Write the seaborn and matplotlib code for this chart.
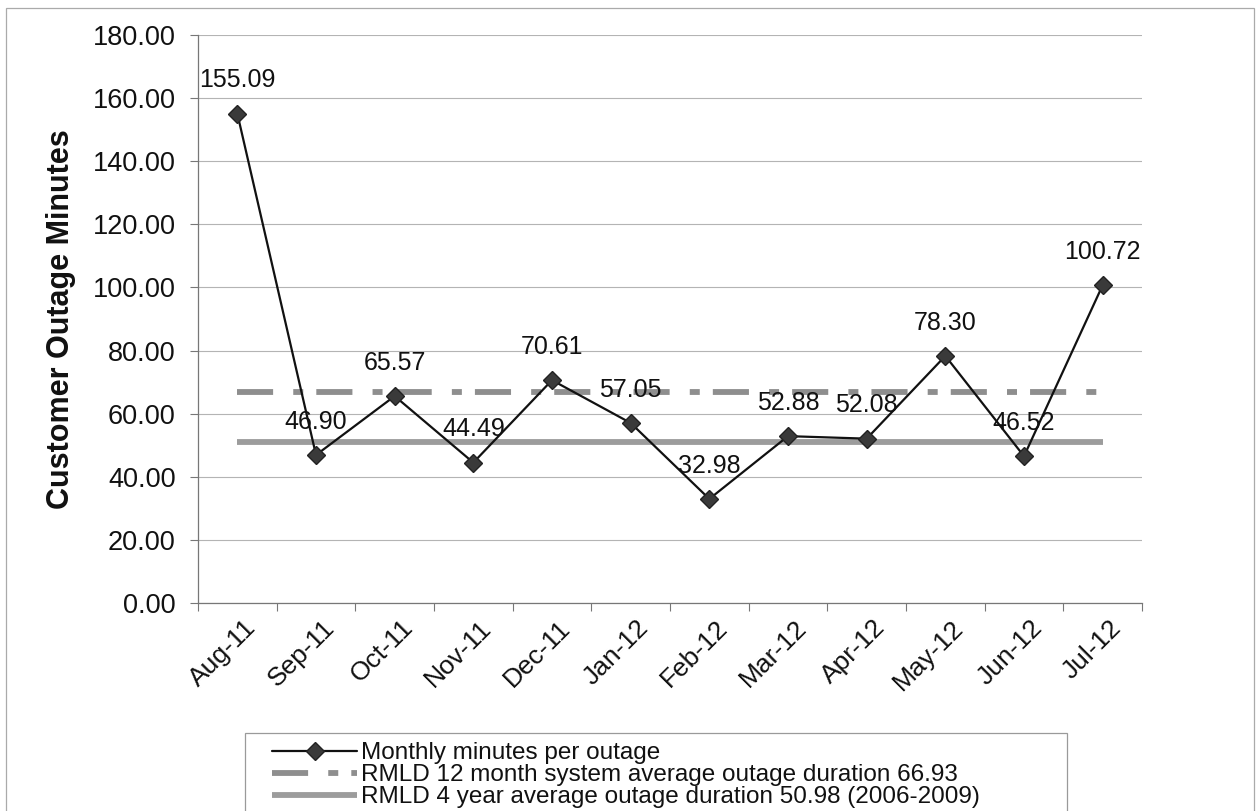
import numpy as np
import pandas as pd
import matplotlib
matplotlib.use("Agg")
import matplotlib.pyplot as plt
import matplotlib.patches as mpatches
from matplotlib.ticker import FormatStrFormatter, FixedLocator
from matplotlib.transforms import ScaledTranslation
import seaborn as sns

# Monthly customer outage minutes
months = ["Aug-11", "Sep-11", "Oct-11", "Nov-11", "Dec-11", "Jan-12",
          "Feb-12", "Mar-12", "Apr-12", "May-12", "Jun-12", "Jul-12"]
minutes = [155.09, 46.90, 65.57, 44.49, 70.61, 57.05,
           32.98, 52.88, 52.08, 78.30, 46.52, 100.72]
avg_12_month = 66.93
avg_4_year = 50.98

label_monthly = "Monthly minutes per outage"
label_12m = "RMLD 12 month system average outage duration 66.93"
label_4y = "RMLD 4 year average outage duration 50.98 (2006-2009)"

sns.set_theme(style="white")
plt.rcParams["font.family"] = ["Liberation Sans", "DejaVu Sans"]
plt.rcParams["lines.scale_dashes"] = False

W, H = 1260, 811
fig = plt.figure(figsize=(W / 100, H / 100), dpi=100)
fig.patch.set_facecolor("white")

left, right, top, bottom = 198, 1142, 35, 603
ax = fig.add_axes([left / W, 1 - bottom / H, (right - left) / W, (bottom - top) / H])
ax.set_facecolor("white")

df = pd.DataFrame({"month": months, "minutes": minutes})
df["avg12"] = np.full(len(months), avg_12_month)
df["avg4"] = np.full(len(months), avg_4_year)

# reference averages drawn first so the monthly series sits on top
sns.lineplot(data=df, x="month", y="avg4", ax=ax, color="#9c9c9c",
             linewidth=4.2, solid_capstyle="butt", label=label_4y, sort=False, zorder=2)
sns.lineplot(data=df, x="month", y="avg12", ax=ax, color="#8e8e8e",
             linewidth=4.2, dashes=False, label=label_12m, sort=False, zorder=2)
ax.lines[-1].set_linestyle((0, (26, 14.5, 7.2, 9.4)))
ax.lines[-1].set_dash_capstyle("butt")

sns.lineplot(data=df, x="month", y="minutes", ax=ax, color="#111111",
             linewidth=1.6, marker="D", markersize=9, markerfacecolor="#3a3a3a",
             markeredgecolor="#222222", markeredgewidth=1.0,
             label=label_monthly, sort=False, zorder=4)

for i, v in enumerate(minutes):
    ax.annotate(f"{v:.2f}", (i, v), xytext=(0, 24), textcoords="offset points",
                ha="center", va="center", fontsize=18, color="#111111", zorder=5)

ax.set_xlim(-0.5, len(months) - 0.5)
ax.set_ylim(0, 180)
ax.yaxis.set_major_locator(FixedLocator(np.arange(0, 181, 20)))
ax.yaxis.set_major_formatter(FormatStrFormatter("%.2f"))
ax.set_xticks(range(len(months)))
ax.set_xticklabels(months, rotation=45, ha="right", rotation_mode="anchor")
ax.xaxis.set_minor_locator(FixedLocator(np.arange(-0.5, len(months), 1.0)))
ax.tick_params(axis="x", which="major", length=0, pad=9, labelsize=19, colors="#111111")
ax.tick_params(axis="x", which="minor", length=6, width=0.8, color="#777777", bottom=True)
ax.tick_params(axis="y", which="major", length=6, width=0.8, color="#777777",
               labelsize=19.5, pad=10, left=True, labelcolor="#111111")
shift = ScaledTranslation(6 / 100, 0, fig.dpi_scale_trans)
for lab in ax.get_xticklabels():
    lab.set_transform(lab.get_transform() + shift)

ax.grid(axis="y", color="#b4b4b4", linewidth=0.8)
ax.grid(axis="x", visible=False)
for s in ["top", "right"]:
    ax.spines[s].set_visible(False)
for s in ["left", "bottom"]:
    ax.spines[s].set_color("#777777")
    ax.spines[s].set_linewidth(0.9)

ax.set_xlabel("")
ax.set_ylabel("Customer Outage Minutes", fontsize=22, fontweight="bold",
              color="#111111", labelpad=12)

# legend below the plot, in the order monthly / 12-month / 4-year
handles, labels = ax.get_legend_handles_labels()
order = [labels.index(label_monthly), labels.index(label_12m), labels.index(label_4y)]
ax.get_legend().remove()
leg = fig.legend([handles[k] for k in order], [labels[k] for k in order],
                 loc="upper left", bbox_to_anchor=(272 / W, 1 - 742 / H),
                 frameon=False, borderpad=0, borderaxespad=0, fontsize=17.5,
                 handlelength=3.5, handletextpad=0.15, labelspacing=0.0,
                 numpoints=1)
for t in leg.get_texts():
    t.set_color("#111111")

fig.add_artist(mpatches.Rectangle((245 / W, -0.05), (1067 - 245) / W, (1 - 733 / H) + 0.05,
                                  transform=fig.transFigure, fill=False,
                                  edgecolor="#9a9a9a", linewidth=0.9))
fig.add_artist(mpatches.Rectangle((6 / W, -0.05), (1254 - 6) / W, (1 - 8 / H) + 0.05,
                                  transform=fig.transFigure, fill=False,
                                  edgecolor="#aaaaaa", linewidth=0.9))

fig.savefig("out.png", dpi=100)
